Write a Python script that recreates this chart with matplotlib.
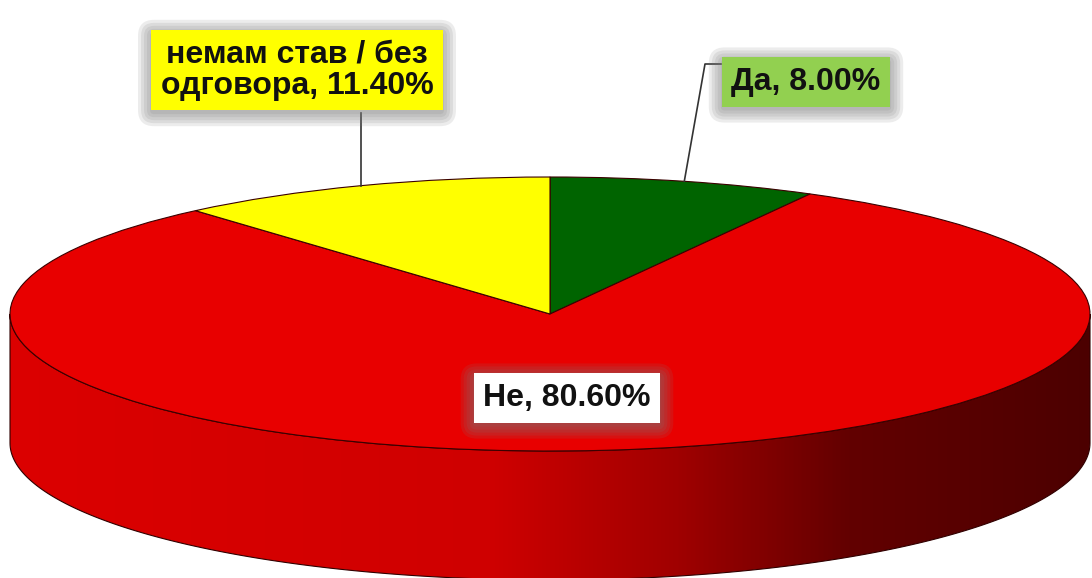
import numpy as np
import matplotlib
matplotlib.use("Agg")
import matplotlib.pyplot as plt
from matplotlib.transforms import Affine2D
from matplotlib.patches import Polygon, FancyBboxPatch
from matplotlib.colors import LinearSegmentedColormap
import textwrap

# data
categories = ["Да", "Не", "немам став / без одговора"]
shares = [8.0, 80.6, 11.4]
top_colors = ["#006400", "#e80000", "#ffff00"]
label_colors = ["#92d050", "#ffffff", "#ffff00"]

# geometry of the "3d" pie, in pixel units
cx, cy = 550, 314
rx, ry = 540, 137
depth = 129

fig = plt.figure(figsize=(10.92, 5.78), dpi=100)
ax = fig.add_axes([0, 0, 1, 1])
plt.rcParams["font.family"] = ["Liberation Sans", "DejaVu Sans"]

wedges, _ = ax.pie(shares, colors=top_colors, startangle=90, counterclock=False,
                   wedgeprops=dict(edgecolor="#3a0000", linewidth=0.8))
squash = Affine2D().scale(rx, -ry).translate(cx, cy)
for w in wedges:
    w.set_transform(squash + ax.transData)
    w.set_zorder(3)

ax.set_aspect("auto")
ax.axis("off")

# side walls (only the front half, 180..360 deg, is visible)
side_cmap = LinearSegmentedColormap.from_list(
    "side", [(0.0, "#dc0000"), (0.45, "#cf0000"), (0.62, "#a00000"),
             (0.78, "#620000"), (1.0, "#4c0000")])
grad = np.linspace(0, 1, 512).reshape(1, -1)

for w in wedges:
    t1, t2 = w.theta1, w.theta2
    for k in (-360, 0, 360):
        a = max(t1, 180 + k)
        b = min(t2, 360 + k)
        if b <= a:
            continue
        t = np.radians(np.linspace(a, b, 200))
        xs = cx + rx * np.cos(t)
        ys = cy - ry * np.sin(t)
        pts = np.vstack([np.column_stack([xs, ys]),
                         np.column_stack([xs[::-1], ys[::-1] + depth])])
        poly = Polygon(pts, closed=True, facecolor="none", edgecolor="#300000",
                       linewidth=0.8, zorder=2)
        ax.add_patch(poly)
        img = ax.imshow(grad, cmap=side_cmap, extent=[0, 1092, 578, 0],
                        aspect="auto", zorder=1)
        img.set_clip_path(poly)

ax.set_xlim(0, 1092)
ax.set_ylim(578, 0)

# labels
label_pos = [(806, 82), (567, 398), (297, 70)]
labels = []
for i, (cat, val) in enumerate(zip(categories, shares)):
    txt = textwrap.fill(f"{cat}, {val:.2f}%", 17)
    x, y = label_pos[i]
    t = ax.text(x, y, txt, ha="center", va="center", fontsize=23,
                fontweight="bold", color="#111111", linespacing=1.05, zorder=6,
                bbox=dict(boxstyle="square,pad=0.3", fc=label_colors[i], ec="none"))
    labels.append(t)

# soft grey glow behind each label box, slightly lower than the box
fig.canvas.draw()
inv = ax.transData.inverted()
for t in labels:
    ext = t.get_bbox_patch().get_window_extent()
    (x0, y1), (x1, y0) = inv.transform([[ext.x0, ext.y0], [ext.x1, ext.y1]])
    for grow in (13, 10, 7, 4, 1):
        ax.add_patch(FancyBboxPatch((x0, y0 + 3), x1 - x0, y1 - y0,
                                    boxstyle=f"round,pad={grow},rounding_size={grow + 3}",
                                    fc="#7a7a7a", ec="none", alpha=0.14, zorder=5))

# leader lines from the mid angle of the small slices
mid = [np.radians((w.theta1 + w.theta2) / 2) for w in wedges]
lx = [cx + rx * np.cos(m) for m in mid]
ly = [cy - ry * np.sin(m) for m in mid]
ax.plot([lx[0], 705, 721], [ly[0], 64, 64], color="#333333", lw=1.2, zorder=4)
ax.plot([lx[2], lx[2]], [ly[2], 113], color="#333333", lw=1.2, zorder=4)

fig.savefig("out.png", dpi=100)
